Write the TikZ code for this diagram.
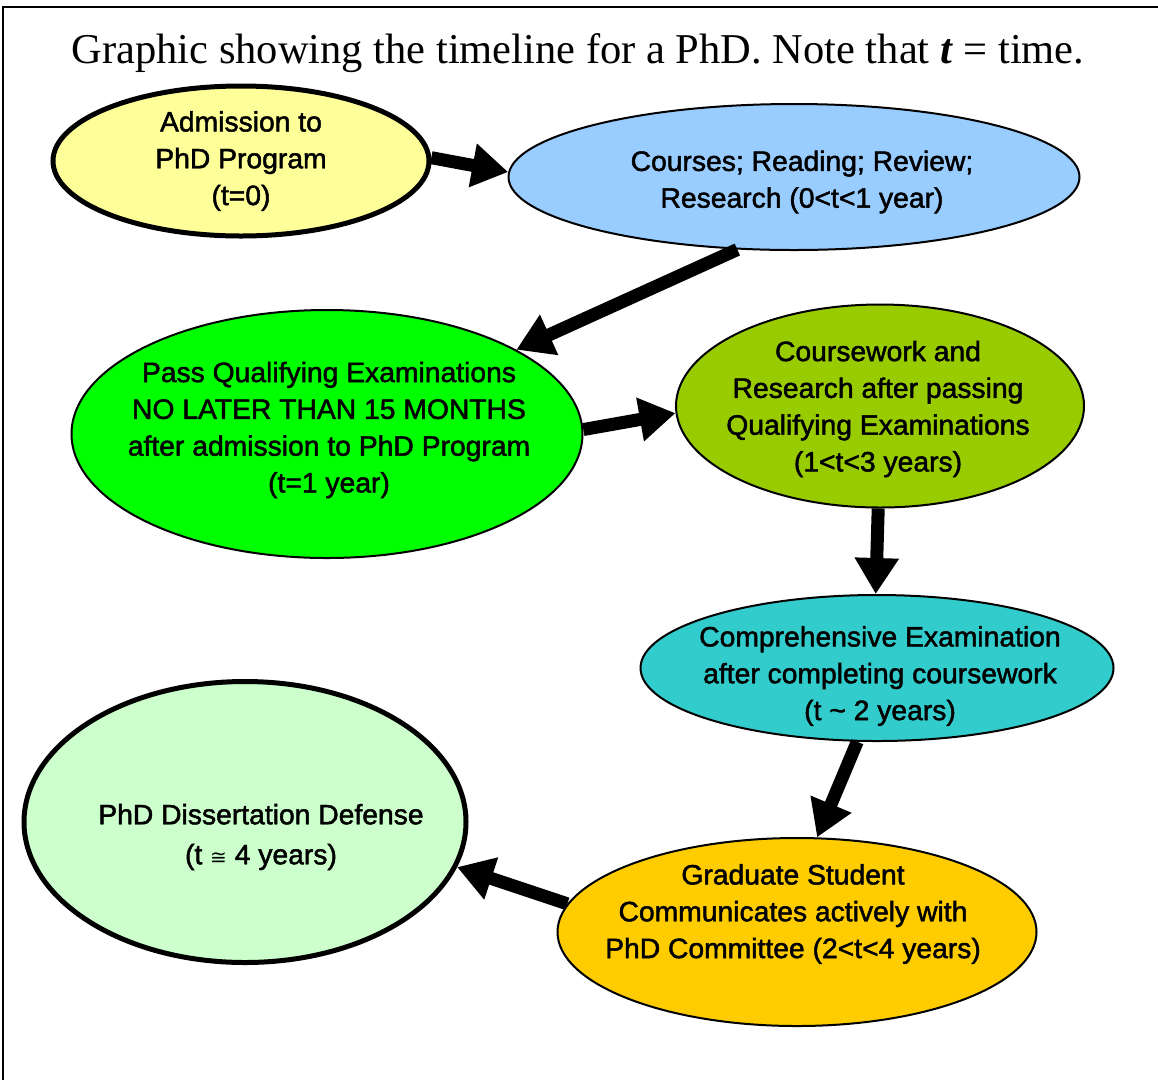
\documentclass[tikz,border=0pt]{standalone}
\usepackage{fontspec}
\setmainfont{Liberation Serif}
\newfontfamily\narrow[FakeStretch=1.01,FakeBold=1.7]{Liberation Sans}
\newfontfamily\symfont{DejaVu Sans}
\usetikzlibrary{shapes.geometric,arrows.meta}
\definecolor{cyell}{HTML}{FFFF99}
\definecolor{cblue}{HTML}{99CCFF}
\definecolor{cgreen}{HTML}{00FF00}
\definecolor{colive}{HTML}{99CC00}
\definecolor{cteal}{HTML}{33CCCC}
\definecolor{clgreen}{HTML}{CCFFCC}
\definecolor{cgold}{HTML}{FFCC00}
\tikzset{
  ell/.style={ellipse, draw=black, line width=2pt, inner sep=0pt},
  thickell/.style={ell, line width=5pt},
  lbl/.style={align=center, font=\narrow\fontsize{28}{36.8}\selectfont, inner sep=0pt},
  bigarrow/.style={line width=13pt, -{Triangle[length=36pt,width=42pt]}},
}
\begin{document}
\begin{tikzpicture}[x=1pt,y=-1pt]
\useasboundingbox (0,0) rectangle (1158,1080);
\fill[white] (0,0) rectangle (1158,1080);
\draw[line width=2pt] (3,1080) -- (3,7) -- (1158,7);
\node[anchor=base, font=\fontsize{42.5}{50}\selectfont, inner sep=0pt] (title) at (578,63) {Graphic showing the timeline for a PhD. Note that \textbf{\textit{t}} = time.};

\node[thickell, fill=cyell, minimum width=376pt, minimum height=150pt] (adm) at (241,161) {};
\node[ell, fill=cblue, minimum width=571pt, minimum height=146pt] (crs) at (794,177) {};
\node[ell, fill=cgreen, minimum width=511pt, minimum height=248pt] (qual) at (327,434) {};
\node[ell, fill=colive, minimum width=408pt, minimum height=203pt] (cw) at (880,406) {};
\node[ell, fill=cteal, minimum width=473pt, minimum height=146pt] (comp) at (877,668) {};
\node[thickell, fill=clgreen, minimum width=442pt, minimum height=281pt] (def) at (245,822) {};
\node[ell, fill=cgold, minimum width=479pt, minimum height=188pt] (grad) at (797,932) {};

\node[lbl] (tadm) at (241,161) {Admission to\\PhD Program\\(t=0)};
\node[lbl] (tcrs) at (802,182) {Courses; Reading; Review;\\Research (0<t<1 year)};
\node[lbl] (tqual) at (329,430) {Pass Qualifying Examinations\\NO LATER THAN 15 MONTHS\\after admission to PhD Program\\(t=1 year)};
\node[lbl] (tcw) at (878,409) {Coursework and\\Research after passing\\Qualifying Examinations\\(1<t<3 years)};
\node[lbl] (tcomp) at (880,676) {Comprehensive Examination\\after completing coursework\\(t \textasciitilde{} 2 years)};
\node[lbl, font=\narrow\fontsize{28}{40}\selectfont] (tdef) at (261,837) {PhD Dissertation Defense\\(t {\symfont\fontsize{20}{20}\selectfont ≅} 4 years)};
\node[lbl] (tgrad) at (793,914) {Graduate Student\\Communicates actively with\\PhD Committee (2<t<4 years)};

\draw[bigarrow] (adm.1) -- (crs.179);
\draw[bigarrow] (crs.-128) -- (qual.24);
\draw[bigarrow] (qual.1) -- (cw.182);
\draw[bigarrow] (cw.-91) -- (comp.91);
\draw[bigarrow] (comp.-105) -- (grad.78);
\draw[bigarrow] (grad.173) -- (def.-12);
\end{tikzpicture}
\end{document}
